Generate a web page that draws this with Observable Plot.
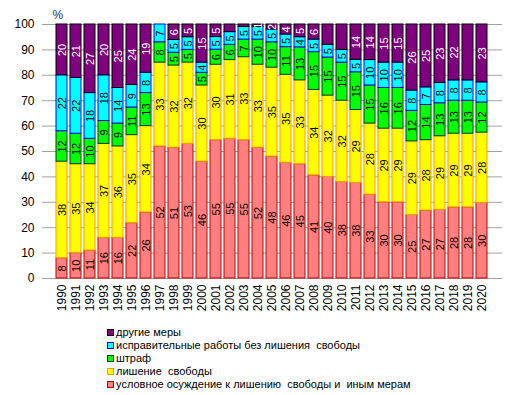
<!DOCTYPE html>
<html>
<head>
<meta charset="utf-8">
<script src="https://cdn.jsdelivr.net/npm/d3@7"></script>
<script src="https://cdn.jsdelivr.net/npm/@observablehq/plot@0.6"></script>
<style>
  body { margin: 0; background: #fff; font-family: "Liberation Sans", Arial, sans-serif; }
  #legend { margin: 4px 0 0 107px; font-size: 11px; color: #000; }
  #legend .item { height: 13px; line-height: 13px; display: flex; align-items: center; white-space: pre; }
  #legend .sw { width: 5px; height: 5px; border: 1px solid; margin-right: 2px; }
</style>
</head>
<body>
<div id="chart"></div>
<div id="legend"></div>
<script>
const years = ["1990","1991","1992","1993","1994","1995","1996","1997","1998","1999","2000","2001","2002","2003","2004","2005","2006","2007","2008","2009","2010","2011","2012","2013","2014","2015","2016","2017","2018","2019","2020"];

const seriesNames = [
  "условное осуждение к лишению  свободы и  иным мерам",
  "лишение  свободы",
  "штраф",
  "исправительные работы без лишения  свободы",
  "другие меры"
];

const suspended    = [8,10,11,16,16,22,26,52,51,53,46,55,55,55,52,48,46,45,41,40,38,38,33,30,30,25,27,27,28,28,30];
const prison       = [38,35,34,37,36,35,34,33,32,32,30,30,31,33,33,35,35,33,34,32,32,29,28,29,29,29,28,29,29,29,28];
const fine         = [12,12,10,9,9,11,13,8,5,5,5,6,6,7,10,10,11,13,15,15,15,15,15,16,16,12,14,13,13,13,12];
const correctional = [22,22,18,18,14,9,8,7,5,5,4,5,5,5,5,5,5,4,5,5,5,5,10,10,10,8,7,8,8,8,8];
const other        = [20,21,27,20,25,24,19,0,6,5,15,5,3,1,1,2,4,5,6,8,10,14,14,15,15,26,25,23,22,22,23];

// years where the "other measures" value carries no label in the original
const otherUnlabeled = ["2002","2003","2009","2010","2019"];

const yTicks = [0,10,20,30,40,50,60,70,80,90,100];

const fills   = ["#FF8080", "#FFFF00", "#00FF00", "#00FFFF", "#800080"];
const strokes = ["#C00000", "#FF9900", "#004000", "#0000FF", "#000000"];

const allSeries = [suspended, prison, fine, correctional, other];
const table = [];
allSeries.forEach((vals, si) => {
  vals.forEach((v, i) => {
    const hide = v === 0 || (si === 4 && otherUnlabeled.includes(years[i]));
    table.push({year: years[i], series: seriesNames[si], si, value: v, label: hide ? "" : String(v)});
  });
});

const chart = Plot.plot({
  width: 515,
  height: 322,
  marginLeft: 42,
  marginRight: 13,
  marginTop: 24,
  marginBottom: 44,
  style: {fontFamily: "'Liberation Sans', Arial, sans-serif", fontSize: "12px", color: "#000", background: "#fff"},
  x: {domain: years, padding: 0.18, label: null, tickRotate: -90, tickSize: 0, tickPadding: 6},
  y: {domain: [0, 1], label: null, ticks: yTicks.map(d => d / 100), tickFormat: d => Math.round(d * 100), tickSize: 0, tickPadding: 8},
  color: {domain: seriesNames, range: fills},
  marks: [
    Plot.gridY(yTicks.map(d => d / 100), {stroke: "#a0a0a0", strokeOpacity: 1}),
    Plot.barY(table, Plot.stackY({
      x: "year", y: "value", z: "series", order: "si", offset: "normalize",
      fill: "series",
      stroke: d => strokes[d.si],
      strokeWidth: 1
    })),
    Plot.text(table, Plot.stackY({
      x: "year", y: "value", z: "series", order: "si", offset: "normalize",
      text: "label",
      rotate: -90,
      fill: d => d.si === 4 ? "#ffffff" : "#000000",
      fontSize: 11,
      fontFamily: "'Liberation Sans', Arial, sans-serif"
    })),
    Plot.text(["%"], {frameAnchor: "top-left", dx: 10, dy: -14, fontSize: 12, fill: "#1a2a5a"})
  ]
});
document.getElementById("chart").appendChild(chart);

const legend = document.getElementById("legend");
[4, 3, 2, 1, 0].forEach(si => {
  const item = document.createElement("div");
  item.className = "item";
  const sw = document.createElement("span");
  sw.className = "sw";
  sw.style.background = fills[si];
  sw.style.borderColor = strokes[si];
  const t = document.createElement("span");
  t.textContent = seriesNames[si];
  item.appendChild(sw);
  item.appendChild(t);
  legend.appendChild(item);
});
</script>
</body>
</html>
